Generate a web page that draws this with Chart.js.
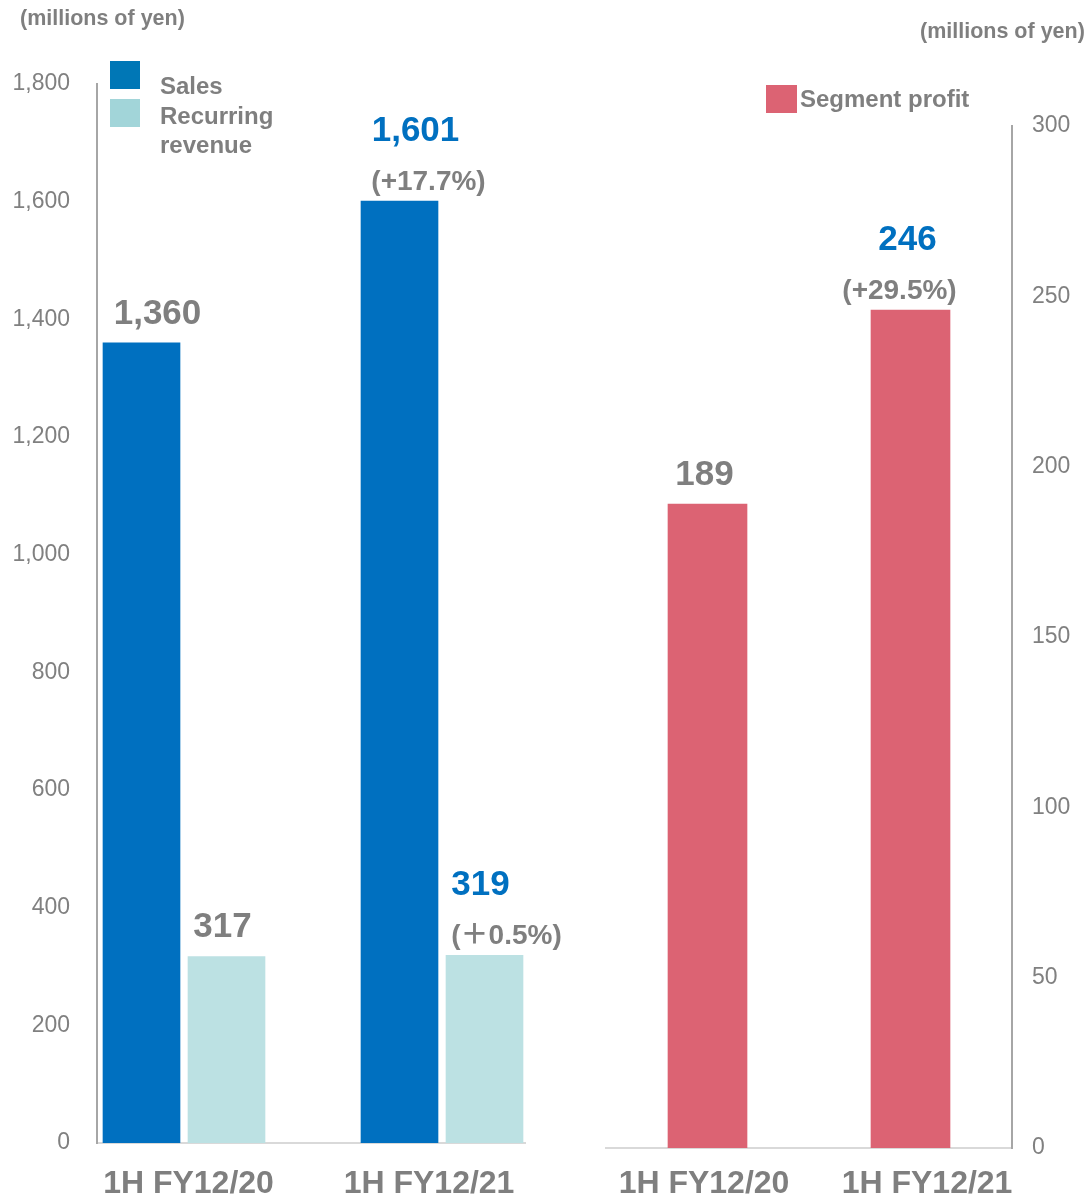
<!DOCTYPE html>
<html>
<head>
<meta charset="utf-8">
<script src="https://cdn.jsdelivr.net/npm/chart.js@4"></script>
<style>
  body { margin: 0; background: #fff; font-family: "Liberation Sans", Arial, "Noto Sans CJK JP", sans-serif; }
  #wrap { position: relative; width: 1090px; height: 1203px; overflow: hidden; }
  .box { position: absolute; top: 0; height: 1203px; }
  #leftBox { left: 0; width: 580px; }
  #rightBox { left: 580px; width: 510px; }
  .unit { position: absolute; font-weight: bold; font-size: 21.5px; line-height: 24px; color: #7f7f7f; white-space: nowrap; }
  .lg { position: absolute; font-weight: bold; font-size: 24px; line-height: 29px; color: #7f7f7f; white-space: nowrap; }
  .sq { position: absolute; }
</style>
</head>
<body>
<div id="wrap">
  <div class="box" id="leftBox"><canvas id="leftChart"></canvas></div>
  <div class="box" id="rightBox"><canvas id="rightChart"></canvas></div>

  <div class="unit" style="left:20px; top:6px;">(millions of yen)</div>
  <div class="unit" style="left:920px; top:19px;">(millions of yen)</div>

  <div class="sq" style="left:110px; top:61px; width:30px; height:28px; background:#0077b6;"></div>
  <div class="sq" style="left:110px; top:99px; width:30px; height:28px; background:#a2d5d9;"></div>
  <div class="lg" style="left:160px; top:71px;">Sales</div>
  <div class="lg" style="left:160px; top:101px;">Recurring<br>revenue</div>

  <div class="sq" style="left:766px; top:85px; width:31px; height:28px; background:#dc6373;"></div>
  <div class="lg" style="left:800px; top:84px;">Segment profit</div>
</div>

<script>
const categories = ['1H FY12/20', '1H FY12/21'];
const sales = [1360, 1601];
const recurring = [317, 319];
const profit = [189, 246];
const salesChange = [null, '(+17.7%)'];
const recurringChange = [null, '(\uFF0B0.5%)'];
const profitChange = [null, '(+29.5%)'];

const gray = '#7f7f7f';
const blue = '#0070c0';
const fontFamily = '"Liberation Sans", Arial, "Noto Sans CJK JP", sans-serif';

Chart.defaults.font.family = fontFamily;

// value + change labels above each bar
const barLabels = {
  id: 'barLabels',
  afterDatasetsDraw(chart) {
    const ctx = chart.ctx;
    ctx.save();
    ctx.textAlign = 'center';
    ctx.textBaseline = 'middle';
    chart.data.datasets.forEach((ds, di) => {
      chart.getDatasetMeta(di).data.forEach((bar, i) => {
        const raw = ds.data[i];
        const value = typeof raw === 'object' ? raw.y : raw;
        const change = ds.changes[i];
        ctx.font = 'bold 35px ' + fontFamily;
        ctx.fillStyle = change ? blue : gray;
        ctx.fillText(value.toLocaleString('en-US'), bar.x + ds.valueDx, bar.y - (change ? 70 : 29));
        if (change) {
          ctx.font = 'bold 28px ' + fontFamily;
          ctx.fillStyle = gray;
          ctx.fillText(change, bar.x + ds.changeDx, bar.y - 19);
        }
      });
    });
    ctx.restore();
  }
};

function labelAxis(min, max, height, padding) {
  return {
    type: 'linear',
    position: 'bottom',
    offset: false,
    min: min,
    max: max,
    afterBuildTicks: s => { s.ticks = categories.map((c, i) => ({ value: i + 1 })); },
    afterFit: s => { s.height = height; },
    grid: { display: false, drawTicks: false },
    border: { display: true, color: '#d9d9d9', width: 2 },
    ticks: {
      callback: (v, i) => categories[i],
      font: { size: 32, weight: 'bold' },
      color: gray,
      padding: padding,
      maxRotation: 0,
      autoSkip: false
    }
  };
}

new Chart(document.getElementById('leftChart'), {
  type: 'bar',
  data: {
    datasets: [
      {
        label: 'Sales',
        data: sales.map((v, i) => ({ x: i + 1, y: v })),
        backgroundColor: blue,
        xAxisID: 'x',
        changes: salesChange,
        valueDx: 16,
        changeDx: 29
      },
      {
        label: 'Recurring revenue',
        data: recurring.map((v, i) => ({ x: i + 1, y: v })),
        backgroundColor: '#bce1e3',
        xAxisID: 'x',
        changes: recurringChange,
        valueDx: -4,
        changeDx: 22
      }
    ]
  },
  options: {
    responsive: true,
    maintainAspectRatio: false,
    animation: false,
    layout: { padding: { top: 84, right: 55, left: 0, bottom: 0 } },
    datasets: { bar: { barThickness: 85, maxBarThickness: 77 } },
    scales: {
      x: { type: 'linear', display: false, offset: false, min: 0.6628, max: 2.3217 },
      xl: labelAxis(0.6195, 2.399, 60, 22),
      y: {
        min: 0,
        max: 1800,
        afterFit: s => { s.width = 97; },
        ticks: {
          stepSize: 200,
          callback: v => v.toLocaleString('en-US'),
          font: { size: 23 },
          color: '#808080',
          padding: 27
        },
        grid: { display: false, drawTicks: false },
        border: { display: true, color: '#a6a6a6', width: 2 }
      }
    },
    plugins: { legend: { display: false }, tooltip: { enabled: false } }
  },
  plugins: [barLabels]
});

new Chart(document.getElementById('rightChart'), {
  type: 'bar',
  data: {
    labels: categories,
    datasets: [
      {
        label: 'Segment profit',
        data: profit,
        backgroundColor: '#dc6373',
        barThickness: 79,
        xAxisID: 'x',
        changes: profitChange,
        valueDx: -3,
        changeDx: -11
      }
    ]
  },
  options: {
    responsive: true,
    maintainAspectRatio: false,
    animation: false,
    layout: { padding: { top: 126, right: 0, left: 26, bottom: 0 } },
    scales: {
      x: { display: false },
      xl: labelAxis(0.5605, 2.381, 55, 17),
      y: {
        position: 'right',
        min: 0,
        max: 300,
        afterFit: s => { s.width = 78; },
        ticks: {
          stepSize: 50,
          font: { size: 23 },
          color: '#808080',
          padding: 20
        },
        grid: { display: false, drawTicks: false },
        border: { display: true, color: '#a6a6a6', width: 2 }
      }
    },
    plugins: { legend: { display: false }, tooltip: { enabled: false } }
  },
  plugins: [barLabels]
});
</script>
</body>
</html>
